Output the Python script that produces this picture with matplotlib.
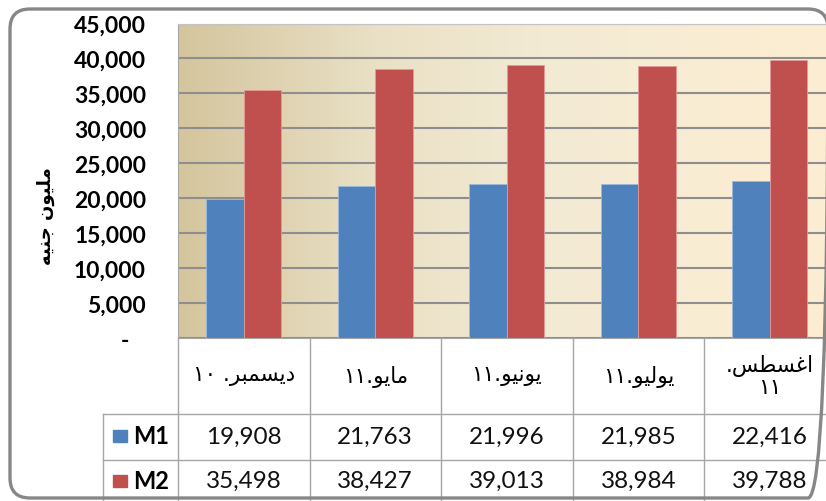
import re

import numpy as np
import matplotlib
matplotlib.use("Agg")
import matplotlib.pyplot as plt
from matplotlib.patches import FancyBboxPatch, Rectangle


# ============================================================
# Data
# ============================================================

CATEGORIES = ["ديسمبر. ١٠", "مايو.١١", "يونيو.١١", "يوليو.١١", "اغسطس.\n١١"]
SERIES = ["M1", "M2"]
M1 = [19908, 21763, 21996, 21985, 22416]
M2 = [35498, 38427, 39013, 38984, 39788]
Y_TICKS = [0, 5000, 10000, 15000, 20000, 25000, 30000, 35000, 40000, 45000]
Y_LABEL = "مليون جنيه"

COLORS = ["#4F81BD", "#C0504D"]
EDGES = ["#9DB9DD", "#E39A98"]


# ============================================================
# Tiny Arabic shaper (matplotlib has no text shaping / bidi)
# forms: isolated, final, initial, medial
# ============================================================

AR_FORMS = {
    "ا": ("\uFE8D", "\uFE8E", None, None),
    "د": ("\uFEA9", "\uFEAA", None, None),
    "ر": ("\uFEAD", "\uFEAE", None, None),
    "و": ("\uFEED", "\uFEEE", None, None),
    "ب": ("\uFE8F", "\uFE90", "\uFE91", "\uFE92"),
    "ج": ("\uFE9D", "\uFE9E", "\uFE9F", "\uFEA0"),
    "س": ("\uFEB1", "\uFEB2", "\uFEB3", "\uFEB4"),
    "ط": ("\uFEC1", "\uFEC2", "\uFEC3", "\uFEC4"),
    "غ": ("\uFECD", "\uFECE", "\uFECF", "\uFED0"),
    "ل": ("\uFEDD", "\uFEDE", "\uFEDF", "\uFEE0"),
    "م": ("\uFEE1", "\uFEE2", "\uFEE3", "\uFEE4"),
    "ن": ("\uFEE5", "\uFEE6", "\uFEE7", "\uFEE8"),
    "ه": ("\uFEE9", "\uFEEA", "\uFEEB", "\uFEEC"),
    "ي": ("\uFEF1", "\uFEF2", "\uFEF3", "\uFEF4"),
}


def shape_line(text):
    out = []
    for i, ch in enumerate(text):
        if ch not in AR_FORMS:
            out.append(ch)
            continue
        prev = text[i - 1] if i > 0 else ""
        nxt = text[i + 1] if i + 1 < len(text) else ""
        join_prev = prev in AR_FORMS and AR_FORMS[prev][2] is not None
        join_next = AR_FORMS[ch][2] is not None and nxt in AR_FORMS
        iso, fin, ini, med = AR_FORMS[ch]
        if join_prev and join_next:
            out.append(med)
        elif join_prev:
            out.append(fin)
        elif join_next:
            out.append(ini)
        else:
            out.append(iso)
    visual = "".join(out)[::-1]
    # digit runs stay left-to-right
    return re.sub(r"[\u0660-\u0669]+", lambda m: m.group()[::-1], visual)


def shape_ar(text):
    return "\n".join(shape_line(line) for line in text.split("\n"))


# ============================================================
# Layout (pixels of the 826x502 picture)
# ============================================================

W, H = 826, 502
PLOT_LEFT = 178
PLOT_TOP = 24.5
PLOT_BOTTOM = 339
CAT_W = 131.5
N = len(CATEGORIES)

NUM_FONT = "Lato"
AR_FONT = "DejaVu Sans"


def yfrac(px):
    return (PLOT_BOTTOM - px) / (PLOT_BOTTOM - PLOT_TOP)


def xdata(px):
    return -0.5 + (px - PLOT_LEFT) / CAT_W


fig = plt.figure(figsize=(W / 100, H / 100), dpi=100)
fig.patch.set_facecolor("white")

ax = fig.add_axes([
    PLOT_LEFT / W,
    (H - PLOT_BOTTOM) / H,
    N * CAT_W / W,
    (PLOT_BOTTOM - PLOT_TOP) / H,
])

# plot area gradient
stops = np.array([0.0, 0.3, 0.55, 1.0])
cols = np.array([
    [212, 197, 157],
    [233, 224, 197],
    [243, 234, 212],
    [253, 238, 210],
]) / 255.0
xs = np.linspace(0, 1, 256)
grad = np.stack([np.interp(xs, stops, cols[:, k]) for k in range(3)], axis=-1)
ax.imshow(grad[np.newaxis, :, :], extent=[-0.5, N - 0.5, 0, Y_TICKS[-1]],
          aspect="auto", interpolation="bilinear", zorder=0)

x = np.arange(N)
bw = 0.285
for k, vals in enumerate([M1, M2]):
    ax.bar(x + (k - 0.5) * bw, vals, width=bw, color=COLORS[k],
           edgecolor=EDGES[k], linewidth=0.6, zorder=2)

ax.set_xlim(-0.5, N - 0.5)
ax.set_ylim(0, Y_TICKS[-1])
ax.set_xticks([])
ax.set_yticks(Y_TICKS)
ax.set_yticklabels(["-   " if v == 0 else f"{v:,}" for v in Y_TICKS],
                   fontsize=16.5, fontweight="bold", family=NUM_FONT)
ax.tick_params(axis="y", length=0, pad=23)
ax.yaxis.grid(True, color="#8e8e8e", linewidth=1.5)
ax.set_axisbelow(True)

ax.spines["right"].set_visible(False)
ax.spines["top"].set_color("#c4c4c4")
ax.spines["left"].set_color("#a6a6a6")
ax.spines["bottom"].set_color("#a6a6a6")

# ============================================================
# Data table under the plot
# ============================================================

tr = ax.get_xaxis_transform()
line_kw = dict(color="#a6a6a6", linewidth=1.0, transform=tr, clip_on=False)

ROW_HEAD = 415
ROW_M1 = 460.5
ROW_END = 503

for i in range(N + 1):
    ax.plot([i - 0.5, i - 0.5], [yfrac(PLOT_BOTTOM), yfrac(ROW_END)], **line_kw)
ax.plot([xdata(103), xdata(103)], [yfrac(ROW_HEAD), yfrac(ROW_END)], **line_kw)
for yy in [ROW_HEAD, ROW_M1]:
    ax.plot([xdata(103), N - 0.5], [yfrac(yy), yfrac(yy)], **line_kw)

for i, cat in enumerate(CATEGORIES):
    ax.text(i, yfrac(376.5), shape_ar(cat), transform=tr, ha="center",
            va="center", fontsize=15.5, family=AR_FONT, linespacing=1.1,
            clip_on=False)

row_centers = [437, 481.5]
for k, (name, vals) in enumerate(zip(SERIES, [M1, M2])):
    yc = yfrac(row_centers[k])
    for i, v in enumerate(vals):
        ax.text(i, yc, f"{v:,}", transform=tr, ha="center", va="center",
                fontsize=17.5, family=NUM_FONT, color="#111111",
                clip_on=False)
    ax.add_patch(Rectangle((xdata(113), yfrac(row_centers[k] + 6)),
                           14 / CAT_W, 12 / (PLOT_BOTTOM - PLOT_TOP),
                           transform=tr, color=COLORS[k], clip_on=False))
    ax.text(xdata(133), yc, name, transform=tr, ha="left", va="center",
            fontsize=17, fontweight="bold", family=NUM_FONT, clip_on=False)

# y axis title
fig.text(46 / W, 1 - 216 / H, shape_ar(Y_LABEL), rotation=90, ha="center",
         va="center", fontsize=13, fontweight="bold", family=AR_FONT)

# rounded chart frame
frame_ax = fig.add_axes([0, 0, 1, 1], zorder=10)
frame_ax.set_xlim(0, W)
frame_ax.set_ylim(H, 0)
frame_ax.axis("off")
frame_ax.patch.set_alpha(0)
frame_ax.add_patch(FancyBboxPatch((10, 10), 818, 489,
                                  boxstyle="round,pad=0,rounding_size=20",
                                  facecolor="none", edgecolor="#878787",
                                  linewidth=2.4))

fig.savefig("out.png", dpi=100)
